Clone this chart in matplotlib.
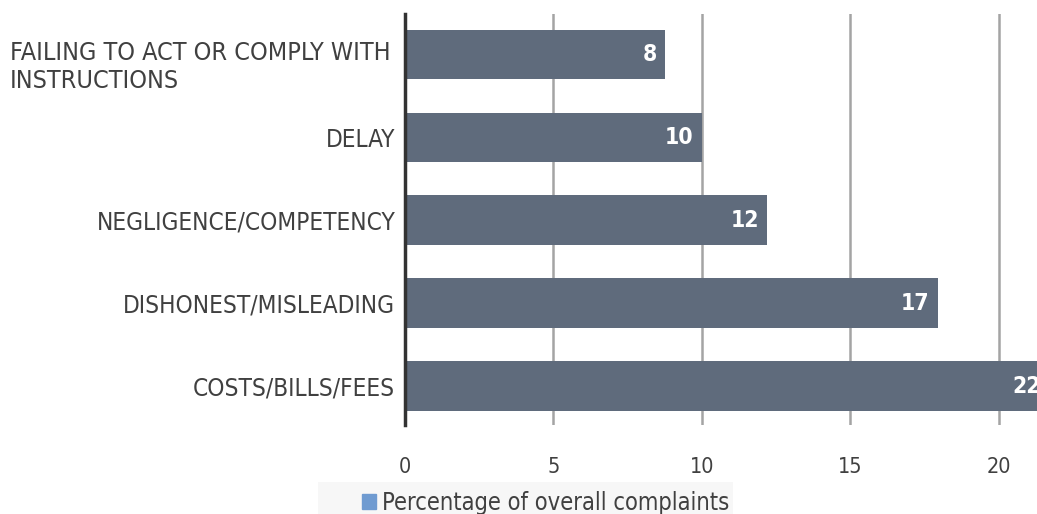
import matplotlib
matplotlib.use("Agg")
import matplotlib.pyplot as plt
from matplotlib.patches import Patch, Rectangle
from matplotlib import font_manager as fm

categories = ["COSTS/BILLS/FEES", "DISHONEST/MISLEADING", "NEGLIGENCE/COMPETENCY",
              "DELAY", "FAILING TO ACT OR COMPLY WITH\nINSTRUCTIONS"]
values = [21.7, 17.95, 12.2, 10.0, 8.75]
value_labels = ["22", "17", "12", "10", "8"]
xticks = [0, 5, 10, 15, 20]
legend_label = "Percentage of overall complaints"

bar_color = "#5f6b7c"
text_color = "#404040"

cond = fm.findfont(fm.FontProperties(family="DejaVu Sans", stretch="condensed"))
if "Condensed" in cond:
    font = dict(family="DejaVu Sans", stretch="condensed")
    cat_size, tick_size, lab_size, leg_size = 17.5, 15.5, 16.5, 17
else:
    font = dict(family="Liberation Sans")
    cat_size, tick_size, lab_size, leg_size = 16, 16, 16, 17

fig = plt.figure(figsize=(10.37, 5.14), dpi=100)
ax = fig.add_axes([405/1037, 1-425/514, 1-405/1037, (425-14)/514])

ypos = list(range(len(categories)))
ax.barh(ypos, values, height=0.6, color=bar_color, zorder=2)
for y, v, lab in zip(ypos, values, value_labels):
    ax.text(v - 0.28, y, lab, ha="right", va="center", color="white",
            fontsize=lab_size, fontweight="bold", zorder=3, clip_on=False, **font)

ax.set_xlim(0, 21.28)
ax.set_ylim(-0.47, 4.49)
ax.set_xticks(xticks)
ax.set_xticklabels([str(t) for t in xticks], fontsize=tick_size, color=text_color, **font)
ax.set_yticks(ypos)
ax.set_yticklabels(categories[:-1] + [""], fontsize=cat_size, color=text_color, **font)
ax.tick_params(axis="y", length=0, pad=7)
ax.tick_params(axis="x", length=0, pad=23)
fig.text(10/1037, 1-67/514, categories[-1], ha="left", va="center", fontsize=cat_size + 0.5,
         color=text_color, linespacing=1.22, **font)

ax.grid(axis="x", color="#a4a4a4", linewidth=1.8, zorder=1)
for s in ["top", "right", "bottom"]:
    ax.spines[s].set_visible(False)
ax.spines["left"].set_color("#333333")
ax.spines["left"].set_linewidth(2.5)
ax.spines["left"].set_zorder(4)

fig.patches.append(Rectangle((318/1037, 0), (733-318)/1037, 32/514,
                             transform=fig.transFigure, facecolor="#f7f7f7",
                             edgecolor="none", zorder=0))
handles = [Patch(color="#6f9bd1", label=legend_label)]
leg = fig.legend(handles=handles, loc="center left", bbox_to_anchor=(350/1037, 1-503/514),
                 frameon=False, handlelength=0.6, handleheight=0.6,
                 handletextpad=0.25, borderpad=0.0, prop=dict(size=leg_size, **font))
for t in leg.get_texts():
    t.set_color(text_color)

fig.savefig("out.png", dpi=100)
